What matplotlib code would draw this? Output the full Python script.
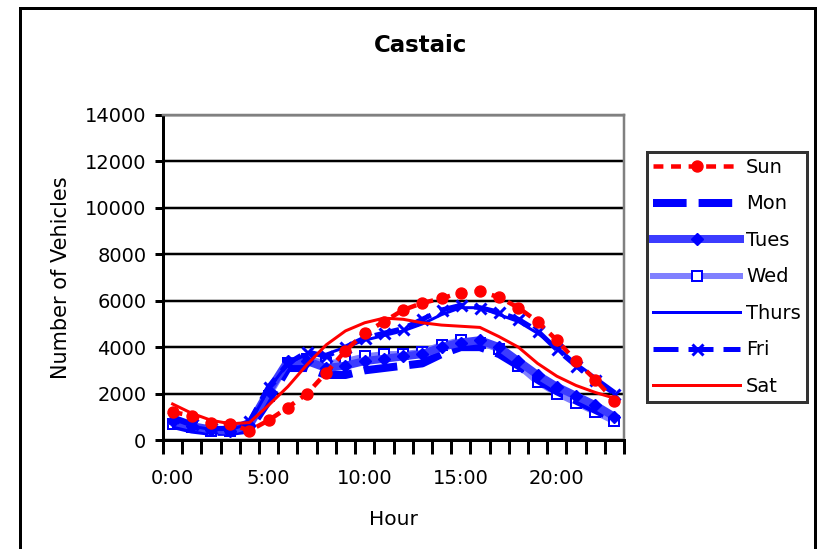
import numpy as np
import matplotlib
matplotlib.use("Agg")
import matplotlib.pyplot as plt
from matplotlib.patches import Rectangle

plt.rcParams['font.family'] = ['DejaVu Sans']

title = "Castaic"
hour_labels = ["0:00", "5:00", "10:00", "15:00", "20:00"]
hour_label_idx = [0, 5, 10, 15, 20]

sun = [1200, 1050, 750, 700, 400, 850, 1400, 2000, 2900, 3850, 4600, 5100,
       5600, 5900, 6100, 6350, 6400, 6150, 5700, 5100, 4300, 3400, 2600, 1700]
mon = [650, 450, 350, 350, 450, 1700, 3100, 3100, 2800, 2800, 3000, 3100,
       3200, 3300, 3700, 4000, 4000, 3700, 3200, 2600, 2100, 1700, 1300, 900]
tues = [800, 600, 450, 400, 650, 2100, 3400, 3400, 3100, 3200, 3400, 3500,
        3600, 3700, 4000, 4200, 4300, 4000, 3400, 2800, 2300, 1900, 1500, 1000]
wed = [700, 550, 400, 400, 550, 1900, 3300, 3500, 3300, 3400, 3600, 3700,
       3700, 3800, 4100, 4300, 4200, 3900, 3200, 2500, 2000, 1600, 1200, 800]
thurs = [900, 600, 450, 450, 700, 2200, 3300, 3700, 3700, 4000, 4300, 4500,
         4700, 5000, 5400, 5700, 5700, 5400, 5100, 4600, 4000, 3300, 2700, 2100]
fri = [1000, 700, 500, 500, 800, 2300, 3300, 3800, 3600, 4000, 4400, 4600,
       4800, 5200, 5600, 5800, 5700, 5500, 5200, 4700, 3900, 3200, 2600, 2000]
sat = [1550, 1150, 850, 700, 750, 1500, 2300, 3250, 4100, 4700, 5050, 5250,
       5200, 5050, 4950, 4900, 4850, 4450, 4000, 3300, 2750, 2350, 2050, 1800]

W, H = 819, 549
fig = plt.figure(figsize=(W / 100, H / 100), dpi=100)
fig.patch.set_facecolor('white')

ax = fig.add_axes([163 / W, 1 - 440 / H, 461 / W, 325 / H])
x = np.arange(24) + 0.5

px = 0.72  # points per pixel

ax.plot(x, wed, color='#8080ff', lw=6 * px, marker='s', ms=10 * px,
        mfc='white', mec='#0000ff', mew=2 * px, zorder=1.9, label='Wed')
ax.plot(x, mon, color='#0000ff', lw=8 * px, dashes=(4.2, 1.5), zorder=2, label='Mon')
ax.plot(x, tues, color='#3c3cff', lw=8 * px, marker='D', ms=9 * px,
        mfc='#0000ff', mec='#0000ff', zorder=2.1, label='Tues')
ax.plot(x, thurs, color='#0000ff', lw=3 * px, zorder=2.3, label='Thurs')
ax.plot(x, fri, color='#0000ff', lw=5 * px, dashes=(5, 2), marker='x',
        ms=11 * px, mew=3 * px, mec='#0000ff', zorder=2.4, label='Fri')
ax.plot(x, sat, color='#ff0000', lw=3 * px, zorder=2.5, label='Sat')
ax.plot(x, sun, color='#ff0000', lw=4.5 * px, dashes=(2.2, 1.7), marker='o',
        ms=11 * px, mfc='#ff0000', mec='#ff0000', zorder=2.6, label='Sun')

ax.set_xlim(0, 24)
ax.set_ylim(0, 14000)
ax.set_yticks(np.arange(0, 14001, 2000))
ax.set_xticks(np.array(hour_label_idx) + 0.5)
ax.set_xticklabels(hour_labels)
ax.set_xticks(np.arange(0, 25, 1), minor=True)
ax.tick_params(axis='x', which='major', length=0, pad=21, labelsize=14)
ax.tick_params(axis='x', which='minor', length=10, width=3 * px, color='black', direction='out')
ax.tick_params(axis='y', which='major', length=6, width=3 * px, color='black',
               direction='out', pad=6, labelsize=14)

ax.grid(axis='y', color='black', lw=2.5 * px, zorder=0)
ax.set_axisbelow(True)
for s in ['left', 'bottom']:
    ax.spines[s].set_color('black')
    ax.spines[s].set_linewidth(3 * px)
for s in ['top', 'right']:
    ax.spines[s].set_color('#808080')
    ax.spines[s].set_linewidth(2.5 * px)

fig.text(421 / W, 1 - 46 / H, title, fontsize=16.5, fontweight='bold',
         ha='center', va='center')
ax.set_xlabel("Hour", fontsize=14.5, labelpad=16)
ax.set_ylabel("Number of Vehicles", fontsize=15, labelpad=10)

handles, labels = ax.get_legend_handles_labels()
order = ['Sun', 'Mon', 'Tues', 'Wed', 'Thurs', 'Fri', 'Sat']
hmap = dict(zip(labels, handles))
leg = fig.legend([hmap[k] for k in order], order, loc='upper left',
                 bbox_to_anchor=(647 / W, 1 - 152 / H), borderaxespad=0,
                 fontsize=14, handlelength=4.5, handletextpad=0.3,
                 borderpad=0.3, labelspacing=0.9, fancybox=False,
                 frameon=True, edgecolor='black')
leg.get_frame().set_linewidth(3 * px)

fig.patches.append(Rectangle((19.5 / W, -0.02), 795 / W, 1.02 - 7.5 / H,
                             transform=fig.transFigure, fill=False,
                             edgecolor='black', lw=3 * px))

fig.savefig("out.png", dpi=100)
